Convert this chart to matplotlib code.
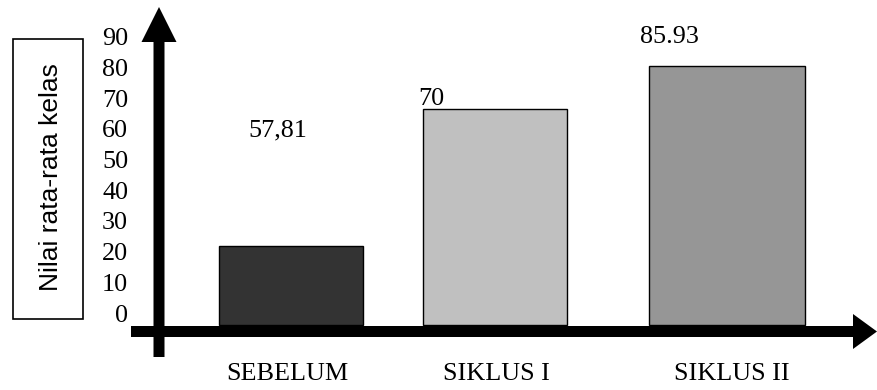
import matplotlib
matplotlib.use("Agg")
import matplotlib.pyplot as plt
from matplotlib.patches import FancyArrow, Rectangle
from matplotlib.transforms import ScaledTranslation

# ---- data ----
categories = ["SEBELUM", "SIKLUS I", "SIKLUS II"]
bar_heights = [25.8, 70.4, 84.4]          # heights of the drawn bars (axis units)
value_labels = ["57,81", "70", "85.93"]   # numbers printed above the bars
y_ticks = [0, 10, 20, 30, 40, 50, 60, 70, 80, 90]
y_title = "Nilai rata-rata kelas"

# ---- layout / style ----
W, H = 877, 390
bar_centers = [291, 495, 727]
bar_widths = [144, 144, 156]
bar_colors = ["#333333", "#c0c0c0", "#969696"]
px_per_unit = 3.067
base_py = 325
serif = "Liberation Serif"
fs = 18.8

fig = plt.figure(figsize=(W / 100, H / 100), dpi=100)

# value axes
left_px = 135
ax = fig.add_axes([left_px / W, 0, (W - left_px) / W, 1])
ax.set_xlim(left_px, W)
ax.set_ylim(-(H - base_py) / px_per_unit, base_py / px_per_unit)
ax.patch.set_visible(False)
for s in ax.spines.values():
    s.set_visible(False)
ax.bar(bar_centers, bar_heights, width=bar_widths, color=bar_colors,
       edgecolor="black", linewidth=1.0, zorder=2)
ax.set_xticks([])
ax.set_yticks(y_ticks)
ax.set_yticklabels([str(t) for t in y_ticks], fontfamily=serif, fontsize=fs)
ax.tick_params(axis="y", length=0, pad=5)
off = ScaledTranslation(0, 0.12, fig.dpi_scale_trans)
for lab in ax.get_yticklabels():
    lab.set_transform(lab.get_transform() + off)

# decoration axes in pixel coordinates
deco = fig.add_axes([0, 0, 1, 1])
deco.set_xlim(0, W)
deco.set_ylim(H, 0)
deco.axis("off")
deco.patch.set_visible(False)

deco.add_patch(FancyArrow(159, 357, 0, -350, width=11, head_width=35,
                          head_length=35, length_includes_head=True,
                          color="black", linewidth=0))
deco.add_patch(FancyArrow(131, 331.5, 746, 0, width=11, head_width=35,
                          head_length=24, length_includes_head=True,
                          color="black", linewidth=0))

deco.add_patch(Rectangle((13, 39), 70, 280, fill=False, edgecolor="black", linewidth=1.2))
deco.text(51, 177, y_title, rotation=90, ha="center", va="center",
          fontfamily="Liberation Sans", fontsize=19)

label_pos = [(248, 130, "left"), (418, 99, "left"), (640, 37, "left")]
for (x, y, ha), txt in zip(label_pos, value_labels):
    deco.text(x, y, txt, ha=ha, va="center", fontfamily=serif, fontsize=fs)

cat_x = [287, 496, 732]
for x, c in zip(cat_x, categories):
    deco.text(x, 374, c, ha="center", va="center", fontfamily=serif, fontsize=fs)

fig.savefig("out.png", dpi=100)
